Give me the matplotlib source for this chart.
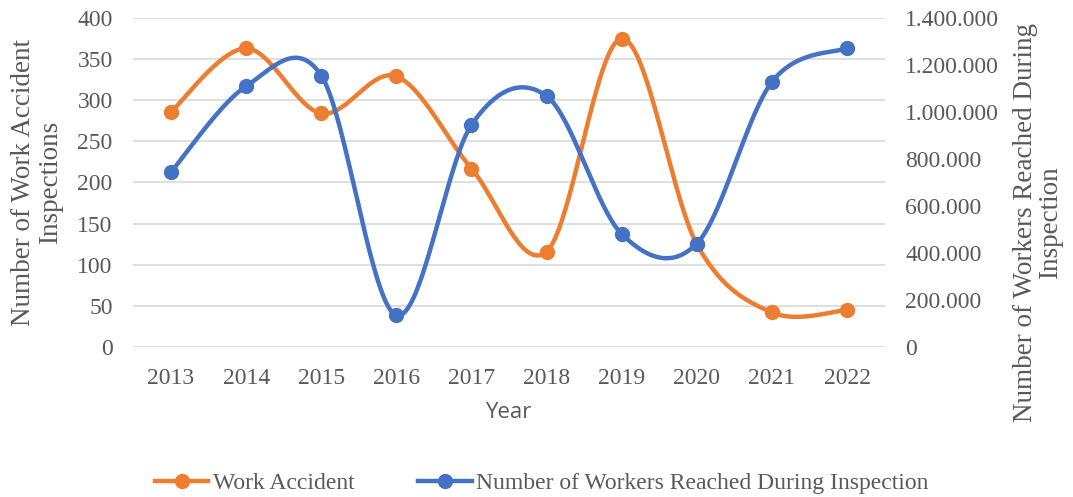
import numpy as np
import matplotlib.pyplot as plt
from matplotlib.lines import Line2D
from matplotlib.ticker import FuncFormatter

years = ['2013', '2014', '2015', '2016', '2017', '2018', '2019', '2020', '2021', '2022']
work_accident = [286, 363, 284, 329, 217, 116, 375, 125, 42, 45]
workers_reached = [745000, 1110000, 1155000, 135000, 945000, 1068000, 481000, 440000, 1128000, 1272000]

ORANGE = '#ED7D31'
BLUE = '#4472C4'
GREY = '#595959'

plt.rcParams['font.family'] = ['Liberation Serif', 'DejaVu Serif']


def smooth(xs, ys, n=40):
    # Catmull-Rom curve through the points, like a spreadsheet "smoothed line"
    xs = np.asarray(xs, float)
    ys = np.asarray(ys, float)
    px = np.concatenate([[xs[0]], xs, [xs[-1]]])
    py = np.concatenate([[ys[0]], ys, [ys[-1]]])
    out_x, out_y = [], []
    t = np.linspace(0, 1, n)
    for i in range(1, len(px) - 2):
        p0x, p1x, p2x, p3x = px[i - 1:i + 3]
        p0y, p1y, p2y, p3y = py[i - 1:i + 3]
        c1x, c1y = p1x + (p2x - p0x) / 6, p1y + (p2y - p0y) / 6
        c2x, c2y = p2x - (p3x - p1x) / 6, p2y - (p3y - p1y) / 6
        bx = (1 - t) ** 3 * p1x + 3 * (1 - t) ** 2 * t * c1x + 3 * (1 - t) * t ** 2 * c2x + t ** 3 * p2x
        by = (1 - t) ** 3 * p1y + 3 * (1 - t) ** 2 * t * c1y + 3 * (1 - t) * t ** 2 * c2y + t ** 3 * p2y
        out_x.extend(bx)
        out_y.extend(by)
    return np.array(out_x), np.array(out_y)


fig = plt.figure(figsize=(10.73, 4.97), dpi=100)
ax = fig.add_axes([0.1244, 0.3018, 0.70, 0.662])
ax2 = ax.twinx()

x = np.arange(len(years))

sx, sy = smooth(x, work_accident)
ax.plot(sx, sy, color=ORANGE, lw=3.2, solid_capstyle='round', zorder=3)
ax.plot(x, work_accident, 'o', color=ORANGE, ms=10, zorder=4)

sx, sy = smooth(x, workers_reached)
ax2.plot(sx, sy, color=BLUE, lw=3.2, solid_capstyle='round', zorder=3)
ax2.plot(x, workers_reached, 'o', color=BLUE, ms=10, zorder=4)

ax.set_xlim(-0.5, len(years) - 0.5)
ax.set_ylim(0, 400)
ax.set_yticks(range(0, 401, 50))
ax2.set_ylim(0, 1400000)
ax2.set_yticks(range(0, 1400001, 200000))
ax2.yaxis.set_major_formatter(FuncFormatter(lambda v, p: f'{int(v):,}'.replace(',', '.')))

ax.set_xticks(x)
ax.set_xticklabels(years)
ax.grid(axis='y', color='#D9D9D9', lw=1.2)
ax.set_axisbelow(True)

for a in (ax, ax2):
    for s in a.spines.values():
        s.set_visible(False)
    a.tick_params(length=0, labelsize=17, labelcolor=GREY)
ax.tick_params(axis='x', pad=15)
ax.tick_params(axis='y', pad=15)
ax2.tick_params(axis='y', pad=15)

fig.text(508 / 1073, 1 - 413 / 497, 'Year', family='Open Sans', fontsize=16,
         color=GREY, ha='center', va='center')
fig.text(37 / 1073, 1 - 182 / 497, 'Number of Work Accident\nInspections', rotation=90,
         fontsize=19.5, color=GREY, ha='center', va='center', multialignment='center',
         linespacing=1.12)
fig.text(1038 / 1073, 1 - 223 / 497, 'Number of Workers Reached During\nInspection', rotation=90,
         fontsize=19.5, color=GREY, ha='center', va='center', multialignment='center',
         linespacing=1.05)

handles = [
    Line2D([], [], color=ORANGE, lw=3.2, marker='o', ms=10),
    Line2D([], [], color=BLUE, lw=3.2, marker='o', ms=10),
]
fig.legend(handles, ['Work Accident', 'Number of Workers Reached During Inspection'],
           loc='center', bbox_to_anchor=(542 / 1073, 1 - 483 / 497), ncol=2, frameon=False,
           fontsize=17, labelcolor=GREY, handlelength=2.25, handletextpad=0.2,
           columnspacing=2.7)

fig.savefig('out.png', dpi=100)
